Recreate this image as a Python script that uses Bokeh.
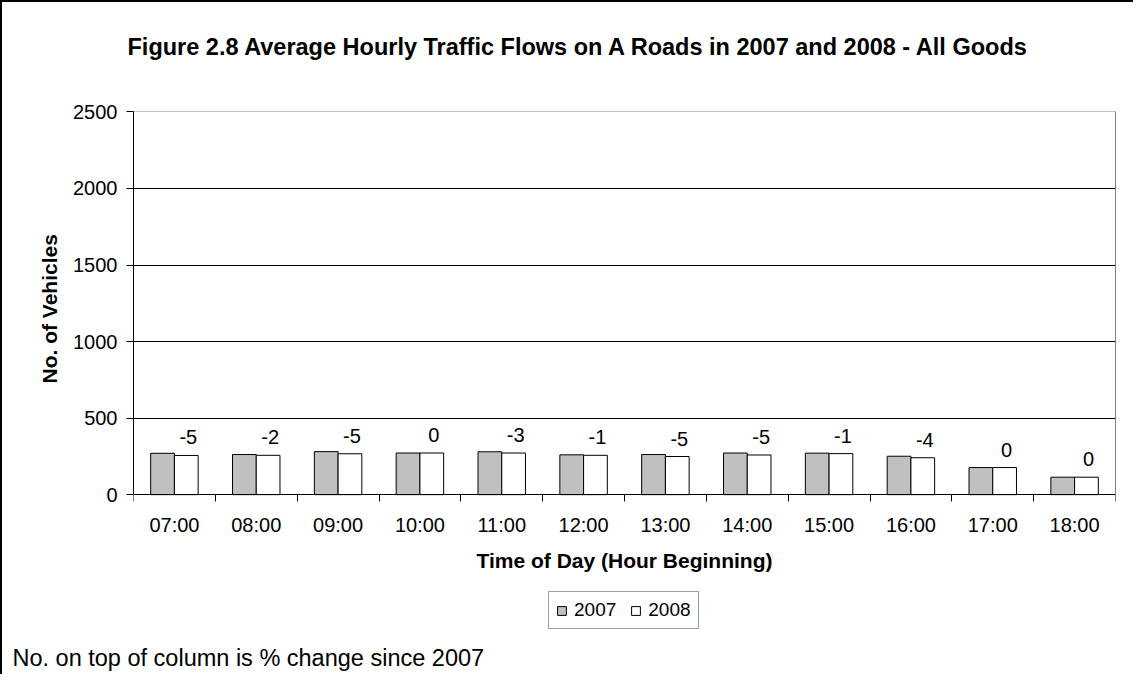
import numpy as np
from bokeh.plotting import figure
from bokeh.models import (ColumnDataSource, Range1d, FixedTicker, Legend, LegendItem,
                          LabelSet, Title, LinearAxis, Grid)
from bokeh.transform import dodge
from bokeh.core.properties import value
from bokeh.embed import file_html
from bokeh.resources import INLINE

# ---- data ----
hours = ["07:00", "08:00", "09:00", "10:00", "11:00", "12:00",
         "13:00", "14:00", "15:00", "16:00", "17:00", "18:00"]
v2007 = [270, 262, 281, 272, 280, 260, 262, 272, 271, 251, 177, 114]
v2008 = [256, 257, 267, 272, 272, 257, 249, 259, 268, 241, 177, 114]
pct_change = [-5, -2, -5, 0, -3, -1, -5, -5, -1, -4, 0, 0]
y_ticks = [0, 500, 1000, 1500, 2000, 2500]

title_text = "Figure 2.8 Average Hourly Traffic Flows on A Roads in 2007 and 2008 - All Goods"
note_text = "No. on top of column is % change since 2007"
y_title = "No. of Vehicles"
x_title = "Time of Day (Hour Beginning)"

FONT = "Liberation Sans"

pos = [i + 0.5 for i in range(len(hours))]
src = ColumnDataSource(dict(pos=pos, hours=hours, v2007=v2007, v2008=v2008,
                            pct=[str(v) for v in pct_change]))

# frame spans the plot area and continues below it (room for the axis texts and legend)
Y_LOW = -979
Y_HIGH = 2503
p = figure(width=1133, height=674,
           x_range=Range1d(0, len(hours)), y_range=Range1d(Y_LOW, Y_HIGH),
           output_backend="svg", toolbar_location=None,
           min_border_left=131, min_border_right=20,
           min_border_top=109, min_border_bottom=32)
p.styles = {"border-left": "2px solid black", "border-top": "2px solid black"}
p.background_fill_color = "white"
p.border_fill_color = "white"
p.outline_line_color = None

# title (outermost) + spacer between it and the plot
p.title.text = title_text
p.title.align = "left"
p.title.offset = -6
p.title.vertical_align = "bottom"
p.title.standoff = 0
p.title.text_font = FONT
p.title.text_font_size = "23.5px"
p.title.text_font_style = "bold"
p.title.text_color = "black"
p.add_layout(Title(text=" ", text_font_size="20px", standoff=28), "above")

bw = 0.29
r07 = p.vbar(x=dodge("pos", -bw / 2), top="v2007", width=bw, source=src,
             fill_color="#C0C0C0", line_color="black", line_width=1)
r08 = p.vbar(x=dodge("pos", bw / 2), top="v2008", width=bw, source=src,
             fill_color="white", line_color="black", line_width=1)

# x axis at value 0: labels at category centres, tick marks at category boundaries
xa = p.xaxis[0]
xa.fixed_location = 0
xa.ticker = FixedTicker(ticks=pos, minor_ticks=list(range(len(hours) + 1)))
xa.major_label_overrides = {float(c): h for c, h in zip(pos, hours)}
xa.major_tick_out = 0
xa.major_tick_in = 0
xa.minor_tick_out = 7
xa.minor_tick_in = 0
xa.minor_tick_line_color = "black"
xa.axis_line_color = "black"
xa.major_label_text_font = FONT
xa.major_label_text_font_size = "20px"
xa.major_label_text_color = "black"
xa.major_label_standoff = 12
xa.axis_label = x_title
xa.axis_label_text_font = FONT
xa.axis_label_text_font_size = "21px"
xa.axis_label_text_font_style = "bold"
xa.axis_label_text_color = "black"
xa.axis_label_standoff = 10

ya = p.yaxis[0]
ya.bounds = (y_ticks[0], y_ticks[-1])
ya.ticker = FixedTicker(ticks=y_ticks)
ya.major_tick_out = 7
ya.major_tick_in = 0
ya.minor_tick_out = 0
ya.minor_tick_in = 0
ya.axis_line_color = "black"
ya.major_tick_line_color = "black"
ya.major_label_text_font = FONT
ya.major_label_text_font_size = "20px"
ya.major_label_text_color = "black"
ya.major_label_standoff = 9

# y-axis title placed beside the 0..2500 part of the axis
p.add_layout(Title(text=y_title, align="left", offset=261, vertical_align="bottom",
                   standoff=20, text_font=FONT, text_font_size="21px",
                   text_font_style="bold", text_color="black"), "left")

# plot-area border on the right (grey)
ra = LinearAxis(bounds=(y_ticks[0], y_ticks[-1]), ticker=FixedTicker(ticks=[]),
                axis_line_color="#808080", major_tick_out=0, major_tick_in=0,
                minor_tick_out=0, minor_tick_in=0)
p.add_layout(ra, "right")

p.xgrid.visible = False
p.ygrid.ticker = FixedTicker(ticks=y_ticks[1:-1])
p.ygrid.grid_line_color = "black"
p.ygrid.grid_line_width = 1
# plot-area border on top (grey)
p.add_layout(Grid(dimension=1, ticker=FixedTicker(ticks=[y_ticks[-1]]),
                  grid_line_color="#808080", grid_line_width=1))

labels = LabelSet(x=dodge("pos", bw / 2), y="v2008", text="pct", source=src,
                  text_align="center", text_baseline="alphabetic",
                  x_offset=2, y_offset=11,
                  text_font=value(FONT), text_font_size="20px", text_color="black")
p.add_layout(labels)

legend = Legend(items=[LegendItem(label="2007", renderers=[r07]),
                       LegendItem(label="2008", renderers=[r08])],
                location=(415, 15), orientation="horizontal",
                glyph_width=11, glyph_height=11,
                label_text_font=FONT, label_text_font_size="19px",
                label_text_color="black",
                label_standoff=7, spacing=14, padding=7, margin=0,
                border_line_color="#404040", border_line_width=1,
                background_fill_color="white", background_fill_alpha=1)
p.add_layout(legend)

note = Title(text=note_text, align="left", offset=-121, standoff=0, vertical_align="top",
             text_font=FONT, text_font_size="23.5px", text_font_style="normal",
             text_color="black")
p.add_layout(note, "below")

open("out.html", "w").write(file_html(p, INLINE))
